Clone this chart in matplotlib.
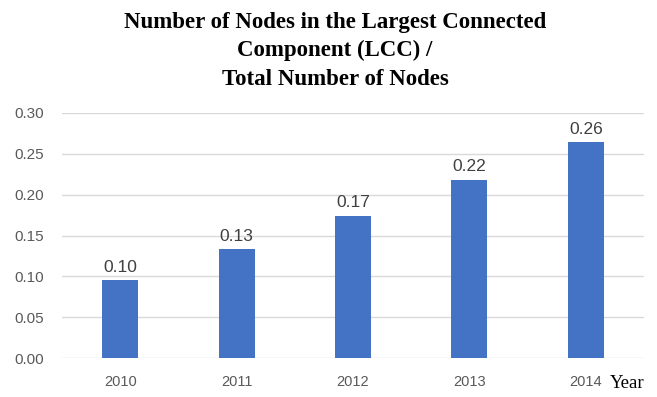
import numpy as np
import matplotlib.pyplot as plt

years = ['2010', '2011', '2012', '2013', '2014']
ratio = [0.095, 0.133, 0.174, 0.218, 0.264]
labels = ['0.10', '0.13', '0.17', '0.22', '0.26']

fig = plt.figure(figsize=(6.57, 3.97), dpi=100)
ax = fig.add_axes([62/657, 1-358/397, 582/657, 245/397])

x = np.arange(len(years))
ax.bar(x, ratio, width=0.31, color='#4472C4', zorder=3)
for xi, v, s in zip(x, ratio, labels):
    ax.text(xi, v + 0.007, s, ha='center', va='bottom', fontsize=12.5,
            color='#404040', family='Liberation Sans')

ax.set_xlim(-0.5, 4.5)
ax.set_ylim(0, 0.30)
ax.set_yticks(np.arange(0, 0.31, 0.05))
ax.set_yticklabels(['%.2f' % t for t in np.arange(0, 0.31, 0.05)])
ax.set_xticks(x)
ax.set_xticklabels(years)
ax.tick_params(axis='y', length=0, labelsize=11, labelcolor='#595959', pad=13)
ax.tick_params(axis='x', length=0, labelsize=10.5, labelcolor='#595959', pad=12)
for lab in ax.get_xticklabels() + ax.get_yticklabels():
    lab.set_family('Liberation Sans')
ax.yaxis.grid(True, color='#D9D9D9', lw=1, zorder=0)
for sp in ax.spines.values():
    sp.set_visible(False)

fig.text(335/657, 1-12/397, 'Number of Nodes in the Largest Connected\nComponent (LCC) /\nTotal Number of Nodes',
         ha='center', va='top', fontsize=16.5, fontweight='bold',
         family='Liberation Serif', linespacing=1.45)
fig.text(610/657, 1-383/397, 'Year', ha='left', va='center', fontsize=13.5,
         family='Liberation Serif', color='black')

fig.savefig('out.png', dpi=100)
